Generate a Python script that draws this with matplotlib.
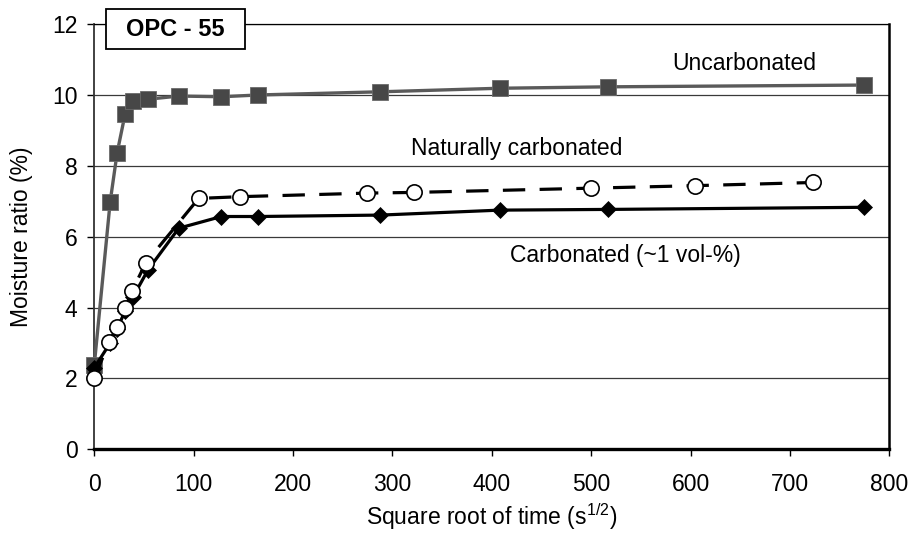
import matplotlib
matplotlib.use("Agg")
import matplotlib.pyplot as plt
from matplotlib.patches import Rectangle

plt.rcParams['font.family'] = ['Liberation Sans', 'DejaVu Sans']
plt.rcParams['mathtext.fontset'] = 'custom'
plt.rcParams['mathtext.rm'] = 'Liberation Sans'
plt.rcParams['mathtext.default'] = 'regular'

# Square root of time (s^1/2) and moisture ratio (%)
x_uncarb = [0, 16, 23, 31, 39, 54, 85, 128, 165, 288, 408, 517, 775]
y_uncarb = [2.38, 6.99, 8.37, 9.46, 9.84, 9.88, 9.97, 9.95, 10.0, 10.09, 10.19, 10.23, 10.28]

x_natural = [0, 15, 23, 31, 38, 52, 105, 147, 274, 322, 500, 604, 723]
y_natural = [2.0, 3.04, 3.46, 3.98, 4.47, 5.27, 7.08, 7.13, 7.23, 7.25, 7.37, 7.44, 7.53]

x_carb = [0, 16, 23, 31, 39, 54, 85, 128, 165, 288, 408, 517, 775]
y_carb = [2.3, 3.0, 3.4, 3.9, 4.3, 5.06, 6.24, 6.57, 6.57, 6.61, 6.75, 6.77, 6.83]

x_ticks = [0, 100, 200, 300, 400, 500, 600, 700, 800]
y_ticks = [0, 2, 4, 6, 8, 10, 12]

FS = 16.5

fig = plt.figure(figsize=(9.11, 5.36), dpi=100)
ax = fig.add_axes([0.1035, 0.1618, 0.8727, 0.7932])

ax.set_xlim(0, 800)
ax.set_ylim(0, 12)
ax.set_xticks(x_ticks)
ax.set_yticks(y_ticks)
ax.tick_params(axis='both', direction='out', length=5, width=1.0, labelsize=FS)
ax.tick_params(axis='x', pad=12)
ax.tick_params(axis='y', pad=7)

for y in y_ticks[1:]:
    ax.axhline(y, color='#3a3a3a', lw=0.9, zorder=1)

ax.spines['left'].set_color('#333333')
ax.spines['left'].set_linewidth(1.3)
ax.spines['bottom'].set_linewidth(2.4)
ax.spines['right'].set_linewidth(1.8)
ax.spines['top'].set_linewidth(0.9)

ax.plot(x_uncarb, y_uncarb, color='#5a5a5a', lw=2.4, marker='s', ms=11,
        mfc='#474747', mec='#6a6a6a', mew=0.6, zorder=3, clip_on=False)
ax.plot(x_carb, y_carb, color='black', lw=2.3, marker='D', ms=8,
        mfc='black', mec='black', mew=0.5, zorder=4, clip_on=False)
ax.plot(x_natural, y_natural, color='black', lw=2.3, dashes=(7, 4.5),
        marker='o', ms=11, mfc='white', mec='black', mew=1.2, zorder=5,
        clip_on=False)

ax.text(654, 10.89, 'Uncarbonated', fontsize=FS, ha='center', va='center')
ax.text(425, 8.50, 'Naturally carbonated', fontsize=FS, ha='center', va='center')
ax.text(534, 5.46, 'Carbonated (~1 vol-%)', fontsize=FS, ha='center', va='center')

# Title box sitting across the top edge of the plot area
ax.add_patch(Rectangle((11.8, 11.30), 139.9, 1.13, facecolor='white',
                       edgecolor='black', lw=1.3, clip_on=False, zorder=6))
ax.text(81.7, 11.86, 'OPC - 55', fontsize=17, fontweight='bold',
        ha='center', va='center', zorder=7)

ax.set_xlabel(r'Square root of time (s$^{1/2}$)', fontsize=FS, labelpad=4)
ax.set_ylabel('Moisture ratio (%)', fontsize=FS, labelpad=14)

fig.savefig('out.png', dpi=100)
